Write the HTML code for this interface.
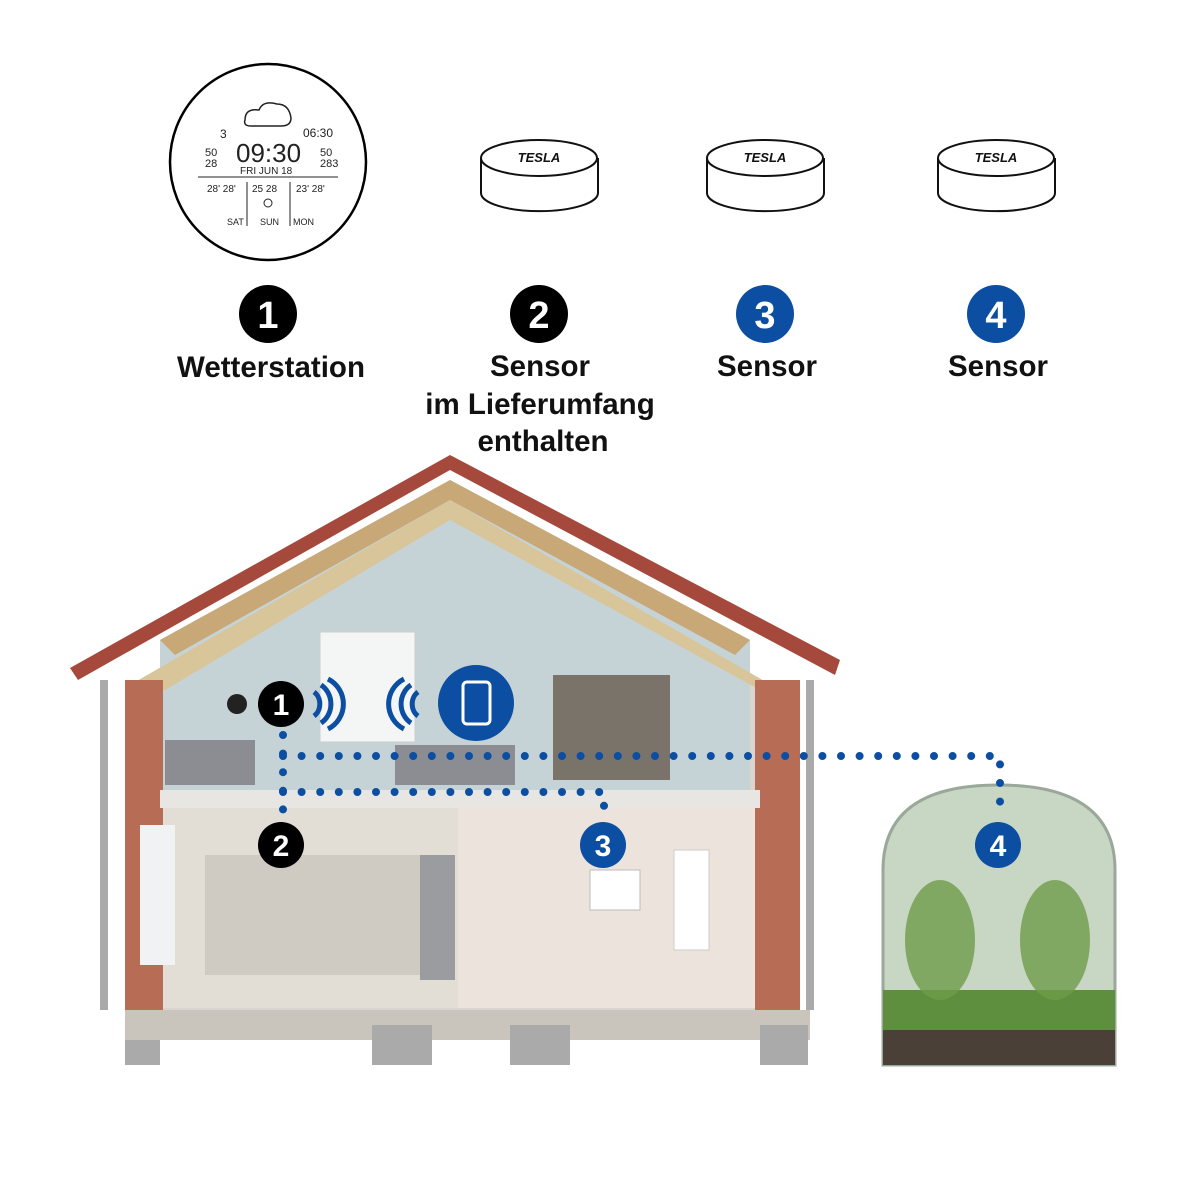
<!DOCTYPE html>
<html><head><style>
body{margin:0;background:#fff;}
svg{display:block}
text{font-family:"Liberation Sans",sans-serif;}
</style></head><body>
<svg width="1200" height="1200" viewBox="0 0 1200 1200">
<rect width="1200" height="1200" fill="#fff"/>
<circle cx="268" cy="162" r="98" fill="#fff" stroke="#000" stroke-width="2.5"/>
<g font-family="Liberation Mono" fill="#222">
<path d="M245 120 q0-12 14-10 q4-10 18-6 q12 0 14 14 q0 8-10 8 h-30 q-8 0-6-6z" fill="none" stroke="#222" stroke-width="1.5"/>
<text x="220" y="138" font-size="12">3</text>
<text x="303" y="137" font-size="12">06:30</text>
<text x="236" y="162" font-size="26">09:30</text>
<text x="205" y="156" font-size="11">50</text><text x="205" y="167" font-size="11">28</text>
<text x="320" y="156" font-size="11">50</text><text x="320" y="167" font-size="11">283</text>
<text x="240" y="174" font-size="10">FRI  JUN 18</text>
<line x1="198" y1="177" x2="338" y2="177" stroke="#222"/>
<line x1="247" y1="182" x2="247" y2="226" stroke="#222"/><line x1="290" y1="182" x2="290" y2="226" stroke="#222"/>
<text x="207" y="192" font-size="10">28' 28'</text><text x="252" y="192" font-size="10">25 28</text><text x="296" y="192" font-size="10">23' 28'</text>
<text x="227" y="225" font-size="9">SAT</text><text x="260" y="225" font-size="9">SUN</text><text x="293" y="225" font-size="9">MON</text>
<circle cx="268" cy="203" r="4" fill="none" stroke="#222"/>
</g>
<g fill="#fff" stroke="#111" stroke-width="2">
<path d="M481 158 v35 a58 18 0 0 0 117 0 v-35"/><ellipse cx="539" cy="158" rx="58" ry="18"/>
<path d="M707 158 v35 a58 18 0 0 0 117 0 v-35"/><ellipse cx="765" cy="158" rx="58" ry="18"/>
<path d="M938 158 v35 a58 18 0 0 0 117 0 v-35"/><ellipse cx="996" cy="158" rx="58" ry="18"/>
</g>
<g font-size="13" font-weight="bold" font-style="italic" text-anchor="middle" fill="#111">
<text x="539" y="162">TESLA</text><text x="765" y="162">TESLA</text><text x="996" y="162">TESLA</text>
</g>
<g font-weight="bold" text-anchor="middle">
<circle cx="268" cy="314" r="29" fill="#000"/><text x="268" y="328" font-size="38" fill="#fff">1</text>
<circle cx="539" cy="314" r="29" fill="#000"/><text x="539" y="328" font-size="38" fill="#fff">2</text>
<circle cx="765" cy="314" r="29" fill="#0b4ea2"/><text x="765" y="328" font-size="38" fill="#fff">3</text>
<circle cx="996" cy="314" r="29" fill="#0b4ea2"/><text x="996" y="328" font-size="38" fill="#fff">4</text>
<g font-size="29.5" fill="#111">
<text x="271" y="377">Wetterstation</text>
<text x="540" y="376">Sensor</text><text x="540" y="414">im Lieferumfang</text><text x="543" y="451">enthalten</text>
<text x="767" y="376">Sensor</text><text x="998" y="376">Sensor</text>
</g></g>
<polygon points="125,680 800,680 800,1010 125,1010" fill="#d9d6d0"/>
<polygon points="160,640 450,480 750,640 750,790 160,790" fill="#c5d3d6"/>
<polygon points="160,640 450,480 450,500 175,655" fill="#c9a878"/>
<polygon points="750,640 450,480 450,500 735,655" fill="#c9a878"/>
<polygon points="70,668 450,455 840,660 835,675 450,470 78,680" fill="#a4493c"/>
<polygon points="130,685 450,500 780,690 760,690 450,520 165,690" fill="#d8c59a"/>
<rect x="125" y="680" width="38" height="330" fill="#b76d55"/>
<rect x="755" y="680" width="45" height="360" fill="#b76d55"/>
<rect x="320" y="632" width="95" height="110" fill="#f4f6f6" stroke="#ccc"/>
<rect x="553" y="675" width="117" height="105" fill="#7a736a"/>
<rect x="165" y="740" width="90" height="45" fill="#8b8d92"/>
<rect x="395" y="745" width="120" height="40" fill="#8b8d92"/>
<rect x="160" y="790" width="600" height="18" fill="#e8e6e2"/>
<rect x="163" y="808" width="295" height="200" fill="#e2ddd5"/>
<rect x="458" y="808" width="297" height="200" fill="#ece4dc"/>
<rect x="205" y="855" width="215" height="120" fill="#cfcbc3"/>
<rect x="420" y="855" width="35" height="125" fill="#9a9c9f"/>
<rect x="590" y="870" width="50" height="40" fill="#fff" stroke="#bbb"/>
<rect x="674" y="850" width="35" height="100" fill="#fff" stroke="#ccc"/>
<rect x="140" y="825" width="35" height="140" fill="#f0f2f3"/>
<polygon points="125,1010 810,1010 810,1040 125,1040" fill="#c9c4bc"/>
<rect x="125" y="1040" width="35" height="25" fill="#aaa"/><rect x="372" y="1025" width="60" height="40" fill="#aaa"/><rect x="510" y="1025" width="60" height="40" fill="#aaa"/><rect x="760" y="1025" width="48" height="40" fill="#aaa"/>
<path d="M104 680 v330 M810 680 v330" stroke="#aaa" stroke-width="8" fill="none"/>
<path d="M883 1065 V870 Q883 785 998 785 Q1115 785 1115 870 V1065Z" fill="#c8d6c4" stroke="#9aa89a" stroke-width="3"/>
<rect x="883" y="990" width="232" height="40" fill="#5d8f3e"/>
<rect x="883" y="1030" width="232" height="35" fill="#4a4037"/>
<ellipse cx="940" cy="940" rx="35" ry="60" fill="#6f9c4a" opacity=".8"/>
<ellipse cx="1055" cy="940" rx="35" ry="60" fill="#6f9c4a" opacity=".8"/>
<g stroke="#0b4ea2" stroke-width="8" stroke-linecap="round" stroke-dasharray="0 18.6" fill="none">
<path d="M283 756 H1000 V820"/>
<path d="M283 792 H604 V820"/>
<path d="M283 735 V830"/>
</g>
<g font-weight="bold" text-anchor="middle" font-size="30" fill="#fff">
<circle cx="281" cy="704" r="23" fill="#000"/><text x="281" y="715">1</text>
<circle cx="281" cy="845" r="23" fill="#000"/><text x="281" y="856">2</text>
<circle cx="603" cy="845" r="23" fill="#0b4ea2"/><text x="603" y="856">3</text>
<circle cx="998" cy="845" r="23" fill="#0b4ea2"/><text x="998" y="856">4</text>
</g>
<circle cx="476" cy="703" r="38" fill="#0b4ea2"/>
<rect x="463" y="682" width="27" height="42" rx="4" fill="none" stroke="#fff" stroke-width="3"/>
<g stroke="#0b4ea2" stroke-width="5" fill="none">
<path d="M314 692 a12 14 0 0 1 0 24"/><path d="M321 685 a20 22 0 0 1 0 38"/><path d="M328 679 a28 28 0 0 1 0 50"/>
<path d="M418 692 a12 14 0 0 0 0 24"/><path d="M411 685 a20 22 0 0 0 0 38"/><path d="M404 679 a28 28 0 0 0 0 50"/>
</g>
<circle cx="237" cy="704" r="10" fill="#222"/>
</svg>
</body></html>
